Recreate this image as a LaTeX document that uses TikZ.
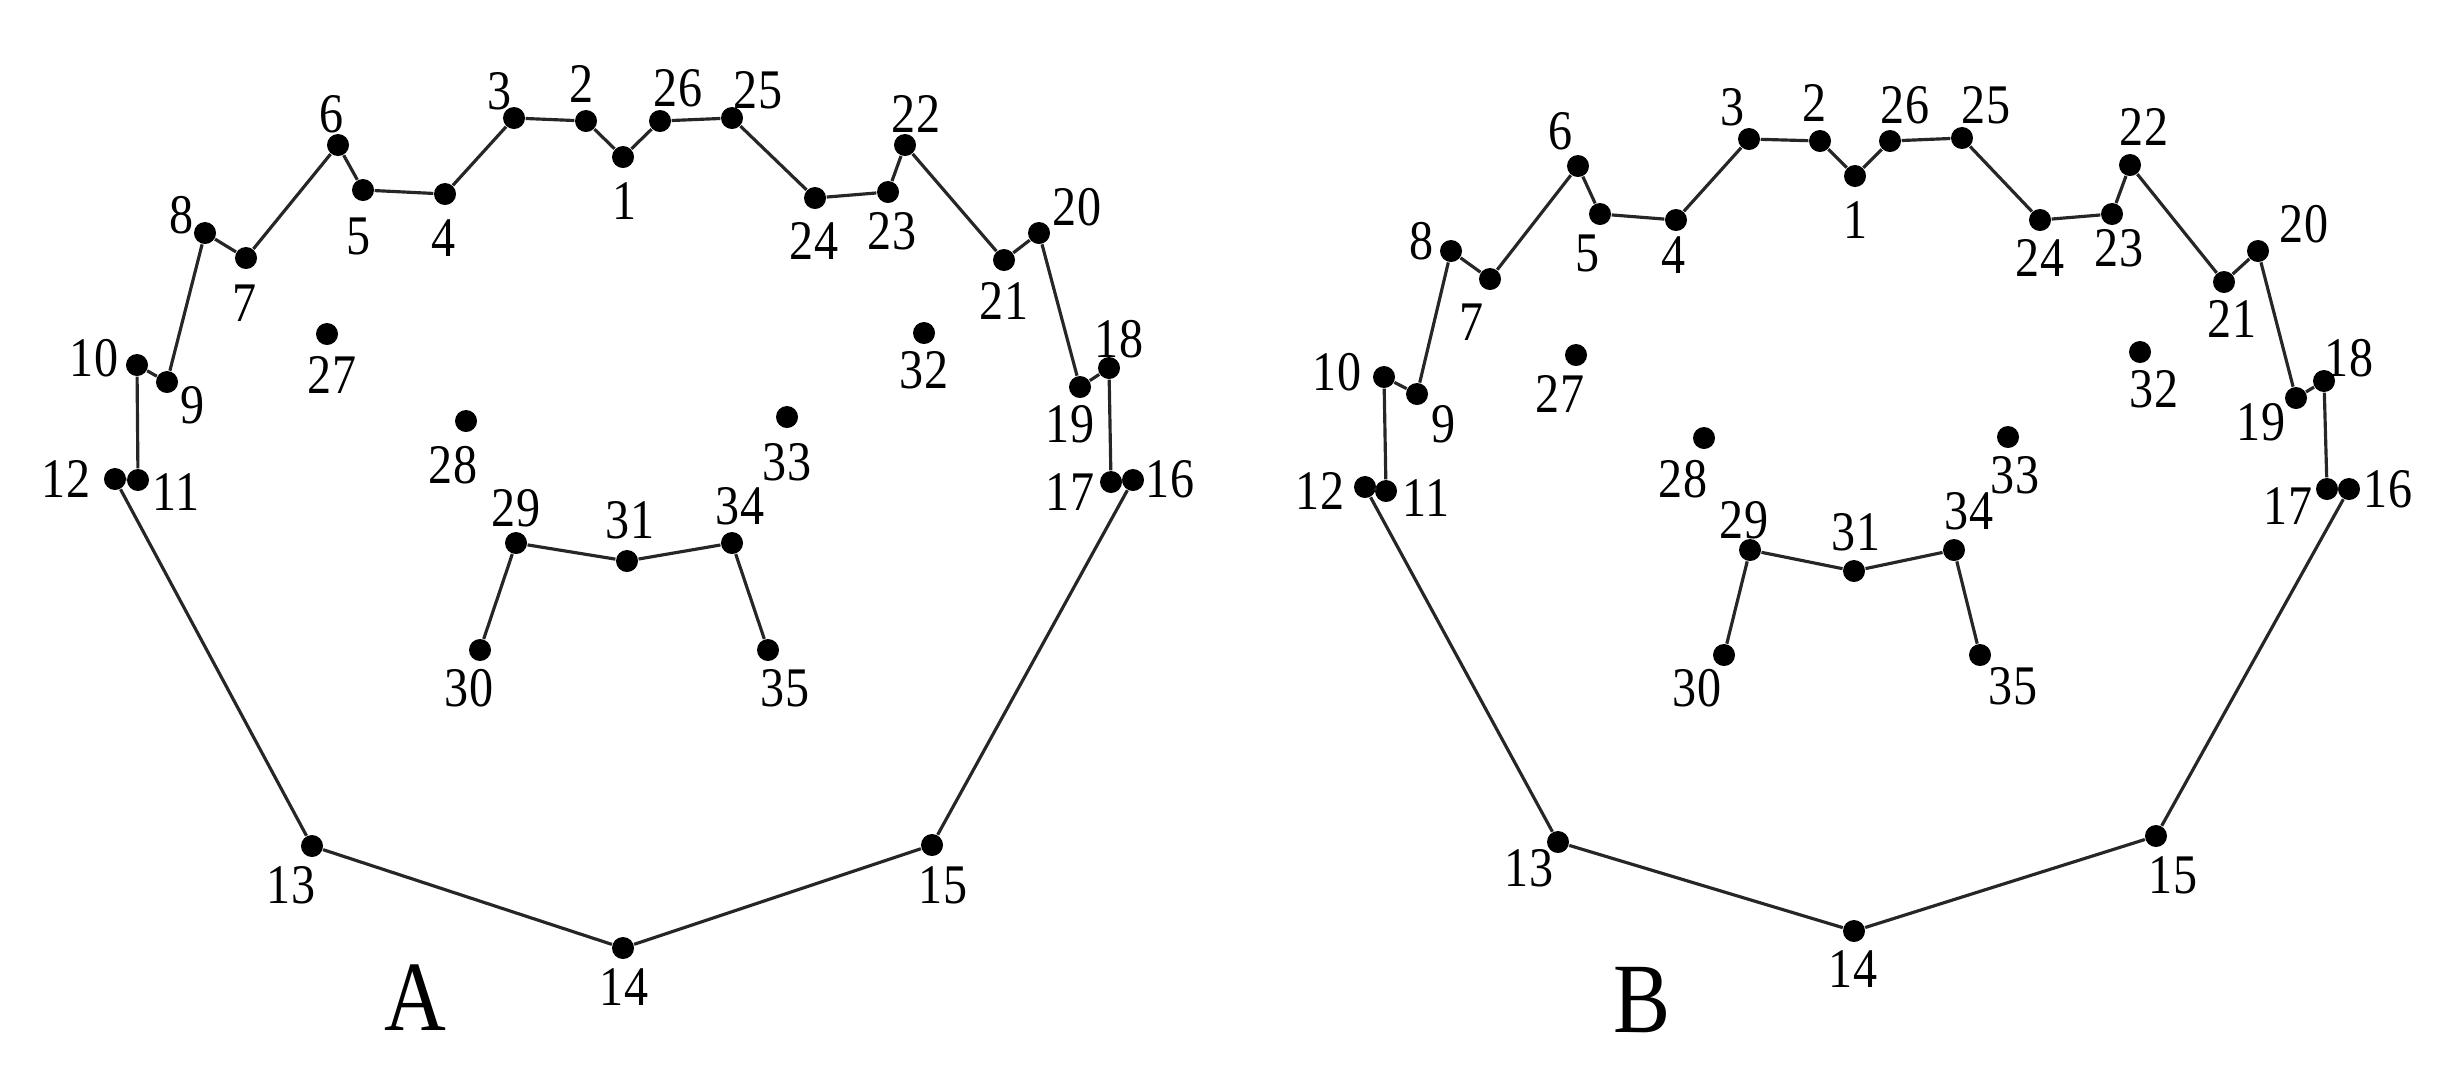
\documentclass[tikz,border=0pt]{standalone}
\usepackage{fontspec}
\setmainfont[FakeStretch=0.86]{Liberation Serif}
\tikzset{
  dot/.style={circle, fill=black, inner sep=0pt, minimum size=0.22cm},
  num/.style={inner sep=0pt, font=\fontsize{15.9}{18}\selectfont},
  panel/.style={inner sep=0pt, font=\fontsize{28.3}{32}\selectfont},
  edge/.style={line width=0.9pt, black!85}
}
\begin{document}
\begin{tikzpicture}[x=0.01cm, y=-0.01cm]
\useasboundingbox (0,0) rectangle (2449,1078);
% ---------- Panel A points ----------
\foreach \i/\px/\py in {1/623/157, 2/586/121, 3/514/118, 4/445/194, 5/363/190,
  6/338/145, 7/246/258, 8/205/233, 9/167/382, 10/137/365, 11/138/480, 12/115/479,
  13/312/846, 14/623/948, 15/932/845, 16/1133/480, 17/1111/482, 18/1109/368,
  19/1080/387, 20/1039/233, 21/1004/260, 22/905/145, 23/888/192, 24/815/198,
  25/732/118, 26/660/121, 27/327/334, 28/466/421, 29/516/543, 30/480/650,
  31/627/561, 32/924/333, 33/787/417, 34/732/543, 35/768/650}
  \node[dot] (A\i) at (\px,\py) {};
\foreach \i/\px/\py in {1/625/201, 2/582/84, 3/500/91, 4/444/238, 5/359/236,
  6/332/114, 7/245/303, 8/182/215, 9/193/405, 10/94/358, 11/176/492, 12/66/479,
  13/291/885, 14/624/987, 15/943/885, 16/1170/479, 17/1070/492, 18/1119/339,
  19/1070/424, 20/1077/207, 21/1004/301, 22/916/114, 23/892/231, 24/814/241,
  25/758/90, 26/678/88, 27/332/375, 28/453/465, 29/516/508, 30/469/688,
  31/630/520, 32/924/370, 33/787/462, 34/740/506, 35/785/688}
  \node[num] (lA\i) at (\px,\py) {\i};
% ---------- Panel B points ----------
\foreach \i/\px/\py in {1/1855/176, 2/1820/141, 3/1749/139, 4/1676/220, 5/1600/214,
  6/1578/166, 7/1490/279, 8/1451/251, 9/1417/394, 10/1384/377, 11/1386/491,
  12/1365/487, 13/1558/842, 14/1854/931, 15/2156/836, 16/2349/489, 17/2327/489,
  18/2324/381, 19/2296/398, 20/2258/251, 21/2224/282, 22/2130/165, 23/2112/214,
  24/2040/220, 25/1962/138, 26/1890/141, 27/1576/355, 28/1704/438, 29/1750/550,
  30/1724/655, 31/1854/571, 32/2140/352, 33/2008/437, 34/1954/550, 35/1980/655}
  \node[dot] (B\i) at (\px,\py) {};
\foreach \i/\px/\py in {1/1855/220, 2/1814/103, 3/1732/107, 4/1673/255, 5/1587/253,
  6/1560/131, 7/1471/322, 8/1421/241, 9/1443/424, 10/1337/372, 11/1426/498,
  12/1320/491, 13/1529/868, 14/1853/969, 15/2173/875, 16/2388/489, 17/2288/506,
  18/2349/358, 19/2261/422, 20/2304/224, 21/2232/319, 22/2144/127, 23/2119/248,
  24/2040/258, 25/1986/105, 26/1905/105, 27/1560/394, 28/1683/479, 29/1744/520,
  30/1697/688, 31/1856/532, 32/2154/389, 33/2015/475, 34/1969/511, 35/2013/686}
  \node[num] (lB\i) at (\px,\py) {\i};
% ---------- outlines ----------
\foreach \P in {A,B}{
  \draw[edge] (\P1) -- (\P2) -- (\P3) -- (\P4) -- (\P5) -- (\P6) -- (\P7) -- (\P8)
    -- (\P9) -- (\P10) -- (\P11) -- (\P12) -- (\P13) -- (\P14) -- (\P15) -- (\P16)
    -- (\P17) -- (\P18) -- (\P19) -- (\P20) -- (\P21) -- (\P22) -- (\P23) -- (\P24)
    -- (\P25) -- (\P26) -- (\P1);
  \draw[edge] (\P30) -- (\P29) -- (\P31) -- (\P34) -- (\P35);
}
% ---------- panel letters ----------
\node[panel] (labA) at (415,998) {A};
\node[panel] (labB) at (1642,1000) {B};
\end{tikzpicture}
\end{document}
